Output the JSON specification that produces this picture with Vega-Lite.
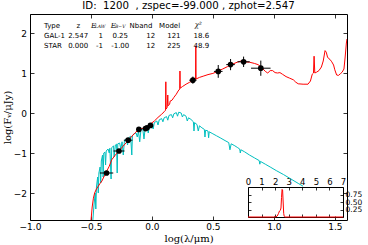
{
  "$schema": "https://vega.github.io/schema/vega-lite/v6.json",
  "width": 317,
  "height": 206,
  "autosize": "none",
  "padding": {"left": 30, "top": 14, "right": 21, "bottom": 25},
  "background": "white",
  "title": {"text": "ID:\u00a0 1200\u00a0 , zspec=-99.000 , zphot=2.547", "font": "DejaVu Sans", "fontSize": 10.2, "fontWeight": "normal", "anchor": "middle", "offset": 2, "color": "black"},
  "config": {
    "view": {"stroke": null},
    "axis": {"zindex": 1, "domainColor": "black", "domainWidth": 1, "tickColor": "black", "tickWidth": 0.8, "labelColor": "black", "titleColor": "black", "grid": false, "labelFont": "DejaVu Sans", "labelFontSize": 9, "titleFontWeight": "normal", "labelFlush": false, "labelOverlap": false}
  },
  "datasets": {
    "red": [
      {"x": -0.5, "y": -2.7}, {"x": -0.49, "y": -2.35}, {"x": -0.48, "y": -2.13}, {"x": -0.47, "y": -2.0}, {"x": -0.455, "y": -1.9}, {"x": -0.44, "y": -1.83}, {"x": -0.425, "y": -1.76}, {"x": -0.41, "y": -1.7}, {"x": -0.395, "y": -1.6}, {"x": -0.385, "y": -1.55}, {"x": -0.37, "y": -1.45}, {"x": -0.35, "y": -1.33}, {"x": -0.33, "y": -1.17}, {"x": -0.3, "y": -1.05}, {"x": -0.27, "y": -0.95}, {"x": -0.24, "y": -0.84}, {"x": -0.21, "y": -0.74}, {"x": -0.195, "y": -0.68}, {"x": -0.17, "y": -0.6}, {"x": -0.14, "y": -0.5}, {"x": -0.115, "y": -0.43}, {"x": -0.09, "y": -0.4}, {"x": -0.06, "y": -0.37}, {"x": -0.03, "y": -0.32}, {"x": -0.015, "y": -0.28}, {"x": 0.02, "y": -0.2}, {"x": 0.05, "y": -0.11}, {"x": 0.08, "y": -0.03}, {"x": 0.1, "y": 0.03}, {"x": 0.112, "y": 0.07}, {"x": 0.114, "y": 0.78}, {"x": 0.116, "y": 0.1}, {"x": 0.125, "y": 0.14}, {"x": 0.13, "y": 0.45}, {"x": 0.133, "y": 0.18}, {"x": 0.145, "y": 0.22}, {"x": 0.15, "y": 0.3}, {"x": 0.165, "y": 0.32}, {"x": 0.18, "y": 0.39}, {"x": 0.2, "y": 0.47}, {"x": 0.215, "y": 0.55}, {"x": 0.228, "y": 0.6}, {"x": 0.23, "y": 1.05}, {"x": 0.232, "y": 0.62}, {"x": 0.25, "y": 0.66}, {"x": 0.28, "y": 0.72}, {"x": 0.31, "y": 0.77}, {"x": 0.34, "y": 0.82}, {"x": 0.358, "y": 0.84}, {"x": 0.36, "y": 1.68}, {"x": 0.362, "y": 0.85}, {"x": 0.39, "y": 0.89}, {"x": 0.42, "y": 0.92}, {"x": 0.46, "y": 0.96}, {"x": 0.5, "y": 0.99}, {"x": 0.54, "y": 1.04}, {"x": 0.58, "y": 1.1}, {"x": 0.62, "y": 1.16}, {"x": 0.66, "y": 1.22}, {"x": 0.7, "y": 1.27}, {"x": 0.73, "y": 1.3}, {"x": 0.76, "y": 1.28}, {"x": 0.8, "y": 1.27}, {"x": 0.84, "y": 1.24}, {"x": 0.87, "y": 1.21}, {"x": 0.9, "y": 1.14}, {"x": 0.93, "y": 1.04}, {"x": 0.95, "y": 1.0}, {"x": 0.97, "y": 1.06}, {"x": 0.99, "y": 1.06}, {"x": 1.01, "y": 1.01}, {"x": 1.03, "y": 1.0}, {"x": 1.05, "y": 1.01}, {"x": 1.07, "y": 0.97}, {"x": 1.1, "y": 0.91}, {"x": 1.13, "y": 0.87}, {"x": 1.16, "y": 0.83}, {"x": 1.18, "y": 0.77}, {"x": 1.2, "y": 0.73}, {"x": 1.24, "y": 0.72}, {"x": 1.28, "y": 0.72}, {"x": 1.3, "y": 0.8}, {"x": 1.315, "y": 0.97}, {"x": 1.325, "y": 1.0}, {"x": 1.33, "y": 1.42}, {"x": 1.336, "y": 1.0}, {"x": 1.35, "y": 1.02}, {"x": 1.37, "y": 1.06}, {"x": 1.39, "y": 1.15}, {"x": 1.405, "y": 1.3}, {"x": 1.42, "y": 1.56}, {"x": 1.43, "y": 1.52}, {"x": 1.44, "y": 1.4}, {"x": 1.45, "y": 1.36}, {"x": 1.46, "y": 1.34}, {"x": 1.475, "y": 1.28}, {"x": 1.49, "y": 1.2}, {"x": 1.5, "y": 1.08}, {"x": 1.515, "y": 0.95}, {"x": 1.53, "y": 0.94}, {"x": 1.545, "y": 0.98}, {"x": 1.56, "y": 1.02}, {"x": 1.575, "y": 1.1}, {"x": 1.585, "y": 1.4}, {"x": 1.595, "y": 1.75}, {"x": 1.6, "y": 1.85}
    ],
    "cyan": [
      {"x": -0.485, "y": -2.7}, {"x": -0.475, "y": -2.3}, {"x": -0.465, "y": -2.0}, {"x": -0.46, "y": -2.4}, {"x": -0.455, "y": -1.85}, {"x": -0.445, "y": -1.6}, {"x": -0.44, "y": -2.0}, {"x": -0.435, "y": -1.5}, {"x": -0.425, "y": -1.35}, {"x": -0.42, "y": -1.75}, {"x": -0.415, "y": -1.2}, {"x": -0.405, "y": -1.05}, {"x": -0.4, "y": -1.6}, {"x": -0.395, "y": -1.0}, {"x": -0.385, "y": -0.98}, {"x": -0.38, "y": -1.3}, {"x": -0.375, "y": -0.95}, {"x": -0.36, "y": -0.9}, {"x": -0.35, "y": -1.0}, {"x": -0.345, "y": -0.88}, {"x": -0.335, "y": -1.65}, {"x": -0.33, "y": -0.87}, {"x": -0.315, "y": -0.82}, {"x": -0.31, "y": -1.1}, {"x": -0.3, "y": -0.8}, {"x": -0.29, "y": -0.78}, {"x": -0.285, "y": -1.5}, {"x": -0.28, "y": -0.77}, {"x": -0.265, "y": -0.75}, {"x": -0.255, "y": -0.9}, {"x": -0.245, "y": -0.72}, {"x": -0.235, "y": -1.05}, {"x": -0.225, "y": -0.68}, {"x": -0.21, "y": -0.65}, {"x": -0.2, "y": -0.8}, {"x": -0.19, "y": -0.62}, {"x": -0.175, "y": -0.58}, {"x": -0.165, "y": -1.05}, {"x": -0.16, "y": -0.56}, {"x": -0.145, "y": -0.52}, {"x": -0.13, "y": -0.5}, {"x": -0.12, "y": -0.6}, {"x": -0.11, "y": -0.46}, {"x": -0.1, "y": -0.72}, {"x": -0.09, "y": -0.42}, {"x": -0.075, "y": -0.4}, {"x": -0.065, "y": -0.65}, {"x": -0.055, "y": -0.37}, {"x": -0.04, "y": -0.34}, {"x": -0.03, "y": -0.5}, {"x": -0.02, "y": -0.31}, {"x": 0.0, "y": -0.27}, {"x": 0.01, "y": -0.4}, {"x": 0.02, "y": -0.24}, {"x": 0.04, "y": -0.2}, {"x": 0.05, "y": -0.3}, {"x": 0.06, "y": -0.17}, {"x": 0.08, "y": -0.14}, {"x": 0.09, "y": -0.22}, {"x": 0.1, "y": -0.12}, {"x": 0.12, "y": -0.09}, {"x": 0.13, "y": -0.18}, {"x": 0.14, "y": -0.06}, {"x": 0.16, "y": -0.04}, {"x": 0.17, "y": -0.12}, {"x": 0.18, "y": -0.02}, {"x": 0.2, "y": 0.01}, {"x": 0.21, "y": -0.08}, {"x": 0.22, "y": 0.02}, {"x": 0.24, "y": 0.0}, {"x": 0.25, "y": -0.1}, {"x": 0.26, "y": -0.04}, {"x": 0.28, "y": -0.08}, {"x": 0.29, "y": -0.2}, {"x": 0.3, "y": -0.12}, {"x": 0.32, "y": -0.16}, {"x": 0.34, "y": -0.22}, {"x": 0.345, "y": -0.45}, {"x": 0.35, "y": -0.24}, {"x": 0.37, "y": -0.29}, {"x": 0.38, "y": -0.45}, {"x": 0.39, "y": -0.32}, {"x": 0.41, "y": -0.37}, {"x": 0.43, "y": -0.41}, {"x": 0.435, "y": -0.6}, {"x": 0.44, "y": -0.43}, {"x": 0.46, "y": -0.45}, {"x": 0.465, "y": -0.62}, {"x": 0.47, "y": -0.47}, {"x": 0.5, "y": -0.52}, {"x": 0.53, "y": -0.57}, {"x": 0.56, "y": -0.62}, {"x": 0.6, "y": -0.69}, {"x": 0.63, "y": -0.74}, {"x": 0.64, "y": -0.92}, {"x": 0.65, "y": -0.77}, {"x": 0.68, "y": -0.82}, {"x": 0.7, "y": -0.86}, {"x": 0.72, "y": -0.9}, {"x": 0.725, "y": -1.0}, {"x": 0.73, "y": -0.92}, {"x": 0.76, "y": -0.97}, {"x": 0.8, "y": -1.05}, {"x": 0.84, "y": -1.12}, {"x": 0.88, "y": -1.19}, {"x": 0.885, "y": -1.28}, {"x": 0.89, "y": -1.21}, {"x": 0.93, "y": -1.28}, {"x": 0.97, "y": -1.35}, {"x": 1.02, "y": -1.44}, {"x": 1.08, "y": -1.54}, {"x": 1.14, "y": -1.65}, {"x": 1.2, "y": -1.76}, {"x": 1.24, "y": -1.83}
    ],
    "phot": [
      {"x": -0.372, "y": -1.5, "xlo": -0.427, "xhi": -0.317, "ylo": -1.55, "yhi": -1.45},
      {"x": -0.27, "y": -0.95, "xlo": -0.315, "xhi": -0.225, "ylo": -1.0, "yhi": -0.9},
      {"x": -0.195, "y": -0.68, "xlo": -0.23, "xhi": -0.16, "ylo": -0.72, "yhi": -0.64},
      {"x": -0.107, "y": -0.41, "xlo": -0.127, "xhi": -0.087, "ylo": -0.45, "yhi": -0.37},
      {"x": -0.053, "y": -0.39, "xlo": -0.073, "xhi": -0.033, "ylo": -0.43, "yhi": -0.35},
      {"x": -0.04, "y": -0.37, "xlo": -0.06, "xhi": -0.02, "ylo": -0.42, "yhi": -0.32},
      {"x": -0.012, "y": -0.31, "xlo": -0.032, "xhi": 0.008, "ylo": -0.37, "yhi": -0.25},
      {"x": 0.336, "y": 0.82, "xlo": 0.306, "xhi": 0.366, "ylo": 0.73, "yhi": 0.91},
      {"x": 0.544, "y": 1.04, "xlo": 0.509, "xhi": 0.579, "ylo": 0.88, "yhi": 1.2},
      {"x": 0.645, "y": 1.21, "xlo": 0.61, "xhi": 0.68, "ylo": 1.07, "yhi": 1.35},
      {"x": 0.752, "y": 1.28, "xlo": 0.702, "xhi": 0.802, "ylo": 1.15, "yhi": 1.41},
      {"x": 0.893, "y": 1.12, "xlo": 0.813, "xhi": 0.973, "ylo": 0.93, "yhi": 1.31}
    ],
    "tblL": [
      {"tx": -0.885, "ty": 2.1875, "label": "Type"},
      {"tx": -0.885, "ty": 1.925, "label": "GAL-1"},
      {"tx": -0.885, "ty": 1.675, "label": "STAR"}
    ],
    "tblC": [
      {"tx": -0.6025, "ty": 2.1875, "label": "z"},
      {"tx": -0.09, "ty": 2.1875, "label": "Nband"},
      {"tx": 0.145, "ty": 2.1875, "label": "Model"},
      {"tx": -0.605, "ty": 1.925, "label": "2.547"},
      {"tx": -0.42, "ty": 1.925, "label": "1"},
      {"tx": -0.26, "ty": 1.925, "label": "0.25"},
      {"tx": -0.01, "ty": 1.925, "label": "12"},
      {"tx": 0.18, "ty": 1.925, "label": "121"},
      {"tx": 0.405, "ty": 1.925, "label": "18.6"},
      {"tx": -0.605, "ty": 1.675, "label": "0.000"},
      {"tx": -0.43, "ty": 1.675, "label": "-1"},
      {"tx": -0.26, "ty": 1.675, "label": "-1.00"},
      {"tx": -0.01, "ty": 1.675, "label": "12"},
      {"tx": 0.18, "ty": 1.675, "label": "225"},
      {"tx": 0.405, "ty": 1.675, "label": "48.9"}
    ],
    "tblM": [
      {"tx": -0.478, "ty": 2.1875, "label": "E"},
      {"tx": -0.317, "ty": 2.1875, "label": "E"},
      {"tx": 0.38, "ty": 2.2, "label": "χ²"}
    ],
    "tblS": [
      {"tx": -0.425, "ty": 2.14, "label": "LAW"},
      {"tx": -0.26, "ty": 2.14, "label": "B−V"}
    ],
    "pz": [
      {"z": 0.0, "p": 0.0}, {"z": 1.9, "p": 0.0}, {"z": 2.05, "p": 0.005}, {"z": 2.15, "p": 0.03}, {"z": 2.25, "p": 0.12}, {"z": 2.32, "p": 0.2}, {"z": 2.38, "p": 0.22}, {"z": 2.43, "p": 0.3}, {"z": 2.47, "p": 0.65}, {"z": 2.51, "p": 0.92}, {"z": 2.55, "p": 0.9}, {"z": 2.59, "p": 0.5}, {"z": 2.63, "p": 0.12}, {"z": 2.67, "p": 0.02}, {"z": 2.72, "p": 0.0}, {"z": 7.0, "p": 0.0}
    ]
  },
  "layer": [
    {
      "layer": [
        {
          "data": {"name": "cyan"},
          "mark": {"type": "line", "color": "#00bfbf", "strokeWidth": 1, "clip": true},
          "encoding": {
            "x": {"field": "x", "type": "quantitative", "scale": {"domain": [-1, 1.6], "nice": false, "zero": false},
              "axis": {"orient": "top", "values": [-1, -0.5, 0, 0.5, 1, 1.5], "labels": false, "tickSize": -4, "title": null}},
            "y": {"field": "y", "type": "quantitative", "scale": {"domain": [-2.675, 2.475], "nice": false, "zero": false},
              "axis": {"orient": "right", "values": [-2, -1, 0, 1, 2], "labels": false, "tickSize": -4, "title": null}},
            "order": {"field": "x", "type": "quantitative"}
          }
        },
        {
          "data": {"name": "red"},
          "mark": {"type": "line", "color": "#ff0000", "strokeWidth": 1, "clip": true},
          "encoding": {
            "x": {"field": "x", "type": "quantitative", "scale": {"domain": [-1, 1.6], "nice": false, "zero": false},
              "axis": {"orient": "bottom", "values": [-1, -0.5, 0, 0.5, 1, 1.5], "format": ".1f", "tickSize": -4, "labelPadding": 6, "title": "log(λ/μm)", "titleFont": "DejaVu Serif", "titleFontSize": 10, "titlePadding": 2}},
            "y": {"field": "y", "type": "quantitative", "scale": {"domain": [-2.675, 2.475], "nice": false, "zero": false},
              "axis": {"orient": "left", "values": [-2, -1, 0, 1, 2], "format": "d", "tickSize": -4, "labelPadding": 7.5, "title": "log(Fᵥ/μJy)", "titleFont": "DejaVu Serif", "titleFontSize": 10, "titlePadding": 1}},
            "order": {"field": "x", "type": "quantitative"}
          }
        },
        {
          "data": {"name": "phot"},
          "mark": {"type": "rule", "color": "black", "strokeWidth": 1},
          "encoding": {
            "x": {"field": "xlo", "type": "quantitative", "scale": {"domain": [-1, 1.6], "nice": false, "zero": false}, "axis": null},
            "x2": {"field": "xhi"},
            "y": {"field": "y", "type": "quantitative", "scale": {"domain": [-2.675, 2.475], "nice": false, "zero": false}, "axis": null}
          }
        },
        {
          "data": {"name": "phot"},
          "mark": {"type": "rule", "color": "black", "strokeWidth": 1},
          "encoding": {
            "x": {"field": "x", "type": "quantitative", "scale": {"domain": [-1, 1.6], "nice": false, "zero": false}, "axis": null},
            "y": {"field": "ylo", "type": "quantitative", "scale": {"domain": [-2.675, 2.475], "nice": false, "zero": false}, "axis": null},
            "y2": {"field": "yhi"}
          }
        },
        {
          "data": {"name": "phot"},
          "mark": {"type": "point", "filled": true, "color": "black", "size": 32, "opacity": 1},
          "encoding": {
            "x": {"field": "x", "type": "quantitative", "scale": {"domain": [-1, 1.6], "nice": false, "zero": false}, "axis": null},
            "y": {"field": "y", "type": "quantitative", "scale": {"domain": [-2.675, 2.475], "nice": false, "zero": false}, "axis": null}
          }
        },
        {
          "data": {"name": "tblL"},
          "mark": {"type": "text", "align": "left", "baseline": "middle", "font": "DejaVu Sans", "fontSize": 7, "color": "black"},
          "encoding": {
            "x": {"field": "tx", "type": "quantitative", "scale": {"domain": [-1, 1.6], "nice": false, "zero": false}, "axis": null},
            "y": {"field": "ty", "type": "quantitative", "scale": {"domain": [-2.675, 2.475], "nice": false, "zero": false}, "axis": null},
            "text": {"field": "label"}
          }
        },
        {
          "data": {"name": "tblC"},
          "mark": {"type": "text", "align": "center", "baseline": "middle", "font": "DejaVu Sans", "fontSize": 7, "color": "black"},
          "encoding": {
            "x": {"field": "tx", "type": "quantitative", "scale": {"domain": [-1, 1.6], "nice": false, "zero": false}, "axis": null},
            "y": {"field": "ty", "type": "quantitative", "scale": {"domain": [-2.675, 2.475], "nice": false, "zero": false}, "axis": null},
            "text": {"field": "label"}
          }
        },
        {
          "data": {"name": "tblM"},
          "mark": {"type": "text", "align": "center", "baseline": "middle", "font": "DejaVu Serif", "fontStyle": "italic", "fontSize": 7, "color": "black"},
          "encoding": {
            "x": {"field": "tx", "type": "quantitative", "scale": {"domain": [-1, 1.6], "nice": false, "zero": false}, "axis": null},
            "y": {"field": "ty", "type": "quantitative", "scale": {"domain": [-2.675, 2.475], "nice": false, "zero": false}, "axis": null},
            "text": {"field": "label"}
          }
        },
        {
          "data": {"name": "tblS"},
          "mark": {"type": "text", "align": "center", "baseline": "middle", "font": "DejaVu Serif", "fontStyle": "italic", "fontSize": 4.5, "color": "black"},
          "encoding": {
            "x": {"field": "tx", "type": "quantitative", "scale": {"domain": [-1, 1.6], "nice": false, "zero": false}, "axis": null},
            "y": {"field": "ty", "type": "quantitative", "scale": {"domain": [-2.675, 2.475], "nice": false, "zero": false}, "axis": null},
            "text": {"field": "label"}
          }
        }
      ]
    },
    {
      "data": {"name": "pz"},
      "layer": [
        {
          "mark": {"type": "line", "color": "#ff0000", "strokeWidth": 1},
          "encoding": {
            "x": {"field": "z", "type": "quantitative", "scale": {"domain": [0, 7], "range": [218, 313], "nice": false, "zero": false},
              "axis": {"orient": "top", "offset": -173, "values": [0, 1, 2, 3, 4, 5, 6, 7], "format": "d", "tickSize": -3, "labelPadding": 4, "labelFontSize": 8.5, "title": null}},
            "y": {"field": "p", "type": "quantitative", "scale": {"domain": [0, 1], "range": [203, 173], "nice": false, "zero": false},
              "axis": {"orient": "right", "offset": -4, "values": [0.25, 0.5, 0.75], "format": ".2f", "tickSize": -3, "labelPadding": 5, "labelFontSize": 7.5, "title": null}}
          }
        },
        {
          "mark": {"type": "line", "color": "#ff0000", "strokeWidth": 1, "strokeOpacity": 0},
          "encoding": {
            "x": {"field": "z", "type": "quantitative", "scale": {"domain": [0, 7], "range": [218, 313], "nice": false, "zero": false},
              "axis": {"orient": "bottom", "offset": -3, "values": [0, 1, 2, 3, 4, 5, 6, 7], "labels": false, "tickSize": -3, "title": null}},
            "y": {"field": "p", "type": "quantitative", "scale": {"domain": [0, 1], "range": [203, 173], "nice": false, "zero": false},
              "axis": {"orient": "left", "offset": -218, "values": [0.25, 0.5, 0.75], "labels": false, "tickSize": -3, "title": null}}
          }
        }
      ]
    }
  ],
  "resolve": {"scale": {"x": "independent", "y": "independent"}}
}
